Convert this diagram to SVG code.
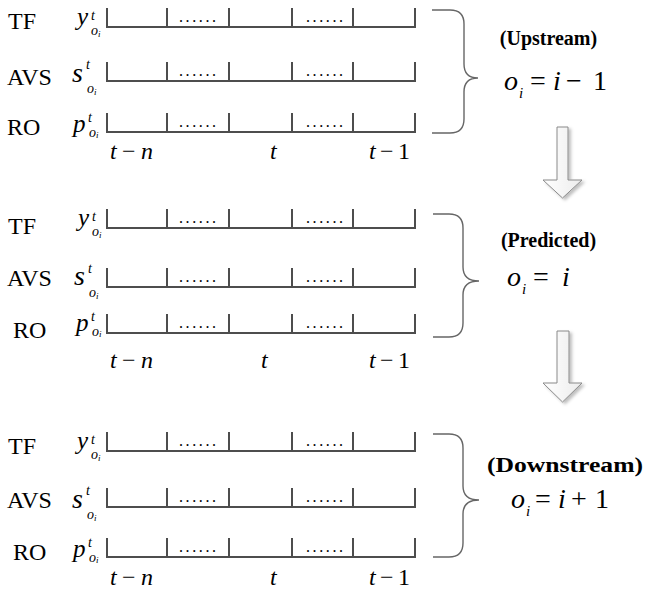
<svg xmlns="http://www.w3.org/2000/svg" width="646" height="592" viewBox="0 0 646 592">
<defs>
<style>
text{font-family:"Liberation Serif","Times New Roman",serif;fill:#000}
.lab{font-size:24px}
.it{font-style:italic}
.sup{font-style:italic;font-size:14px}
.ss{font-style:italic;font-size:9px}
.dots{font-size:16px;letter-spacing:2.6px}
.head{font-size:20px;font-weight:bold}
.eq{font-size:28px}
.track{fill:none;stroke:#4d4d4d;stroke-width:2}
.brace{fill:none;stroke:#666;stroke-width:1.4}
.arrow{fill:url(#ag);stroke:#8a8a8a;stroke-width:1;filter:url(#sh)}
</style>
<linearGradient id="ag" x1="0" y1="0" x2="1" y2="0">
<stop offset="0" stop-color="#ffffff"/>
<stop offset="1" stop-color="#ececec"/>
</linearGradient>
<filter id="sh" x="-30%" y="-10%" width="170%" height="130%">
<feDropShadow dx="2.5" dy="2" stdDeviation="1.5" flood-color="#000" flood-opacity="0.25"/>
</filter>
<g id="track">
<path class="track" d="M107,-19 V0 H415 V-19 M167,0 V-19 M229,0 V-19 M292,0 V-19 M353,0 V-19"/>
<text class="dots" x="179" y="-5">......</text>
<text class="dots" x="306" y="-5">......</text>
</g>
</defs>
<rect width="646" height="592" fill="#fff"/>

<g id="group-upstream">
<g id="g1-tf">
<use href="#track" y="27"/>
<text class="lab" x="8" y="29">TF</text>
<text><tspan class="it" x="77" y="25" font-size="25">y</tspan><tspan class="sup" x="91" y="20">t</tspan><tspan class="sup" x="91" y="35">o</tspan><tspan class="ss" x="98" y="37">i</tspan></text>
</g>
<g id="g1-avs">
<use href="#track" y="81"/>
<text class="lab" x="7" y="85">AVS</text>
<text><tspan class="it" x="72" y="82" font-size="28">s</tspan><tspan class="sup" x="86" y="69" font-size="15">t</tspan><tspan class="sup" x="87" y="93">o</tspan><tspan class="ss" x="94" y="95">i</tspan></text>
</g>
<g id="g1-ro">
<use href="#track" y="132"/>
<text class="lab" x="7" y="135">RO</text>
<text><tspan class="it" x="73" y="132" font-size="25">p</tspan><tspan class="sup" x="88" y="122">t</tspan><tspan class="sup" x="89" y="137" font-size="13">o</tspan><tspan class="ss" x="96" y="138" font-size="8">i</tspan></text>
</g>
<text id="g1-axis" font-size="24"><tspan class="it" x="110" y="159">t</tspan><tspan x="122" y="159">−</tspan><tspan class="it" x="141" y="159">n</tspan><tspan class="it" x="270" y="159">t</tspan><tspan class="it" x="369" y="159">t</tspan><tspan x="380" y="159">−</tspan><tspan x="398" y="159">1</tspan></text>
<path class="brace" d="M432,10 H450 Q464,10 464,24 V64 Q464,78 478,78 Q464,78 464,92 V119 Q464,133 450,133 H432"/>
<text class="head" x="548.5" y="45" text-anchor="middle">(Upstream)</text>
<text class="eq"><tspan class="it" x="504" y="90">o</tspan><tspan class="it" x="519" y="98" font-size="15">i</tspan><tspan x="530" y="90">=</tspan><tspan class="it" x="553" y="90">i</tspan><tspan x="566" y="90">−</tspan><tspan x="593" y="90">1</tspan></text>
</g>

<g id="group-predicted">
<g id="g2-tf">
<use href="#track" y="228"/>
<text class="lab" x="8" y="234">TF</text>
<text><tspan class="it" x="78" y="226" font-size="25">y</tspan><tspan class="sup" x="92" y="221">t</tspan><tspan class="sup" x="92" y="236">o</tspan><tspan class="ss" x="99" y="238">i</tspan></text>
</g>
<g id="g2-avs">
<use href="#track" y="287"/>
<text class="lab" x="7" y="286">AVS</text>
<text><tspan class="it" x="74" y="285" font-size="28">s</tspan><tspan class="sup" x="88" y="273" font-size="15">t</tspan><tspan class="sup" x="89" y="297">o</tspan><tspan class="ss" x="96" y="299">i</tspan></text>
</g>
<g id="g2-ro">
<use href="#track" y="333"/>
<text class="lab" x="13" y="338">RO</text>
<text><tspan class="it" x="76" y="331" font-size="25">p</tspan><tspan class="sup" x="91" y="321">t</tspan><tspan class="sup" x="92" y="336" font-size="13">o</tspan><tspan class="ss" x="99" y="337" font-size="8">i</tspan></text>
</g>
<text id="g2-axis" font-size="24"><tspan class="it" x="110" y="368">t</tspan><tspan x="122" y="368">−</tspan><tspan class="it" x="141" y="368">n</tspan><tspan class="it" x="261" y="368">t</tspan><tspan class="it" x="369" y="368">t</tspan><tspan x="380" y="368">−</tspan><tspan x="398" y="368">1</tspan></text>
<path class="brace" d="M433,214 H449 Q463,214 463,228 V267 Q463,281 479,281 Q463,281 463,295 V323 Q463,337 449,337 H433"/>
<text class="head" x="548.5" y="247" text-anchor="middle">(Predicted)</text>
<text class="eq"><tspan class="it" x="507" y="286">o</tspan><tspan class="it" x="522" y="294" font-size="15">i</tspan><tspan x="533" y="286">=</tspan><tspan class="it" x="562" y="286">i</tspan></text>
</g>

<g id="group-downstream">
<g id="g3-tf">
<use href="#track" y="451"/>
<text class="lab" x="8" y="454">TF</text>
<text><tspan class="it" x="77" y="449" font-size="25">y</tspan><tspan class="sup" x="91" y="444">t</tspan><tspan class="sup" x="91" y="459">o</tspan><tspan class="ss" x="98" y="461">i</tspan></text>
</g>
<g id="g3-avs">
<use href="#track" y="507"/>
<text class="lab" x="7" y="508">AVS</text>
<text><tspan class="it" x="72" y="508" font-size="28">s</tspan><tspan class="sup" x="86" y="495" font-size="15">t</tspan><tspan class="sup" x="87" y="519">o</tspan><tspan class="ss" x="94" y="521">i</tspan></text>
</g>
<g id="g3-ro">
<use href="#track" y="557"/>
<text class="lab" x="13" y="560">RO</text>
<text><tspan class="it" x="73" y="557" font-size="25">p</tspan><tspan class="sup" x="88" y="547">t</tspan><tspan class="sup" x="89" y="562" font-size="13">o</tspan><tspan class="ss" x="96" y="563" font-size="8">i</tspan></text>
</g>
<text id="g3-axis" font-size="24"><tspan class="it" x="110" y="585">t</tspan><tspan x="122" y="585">−</tspan><tspan class="it" x="141" y="585">n</tspan><tspan class="it" x="270" y="585">t</tspan><tspan class="it" x="369" y="585">t</tspan><tspan x="380" y="585">−</tspan><tspan x="398" y="585">1</tspan></text>
<path class="brace" d="M433,434 H449 Q463,434 463,448 V486 Q463,500 479,500 Q463,500 463,514 V543 Q463,557 449,557 H433"/>
<text class="head" x="487" y="472" textLength="156" lengthAdjust="spacingAndGlyphs">(Downstream)</text>
<text class="eq"><tspan class="it" x="511" y="508">o</tspan><tspan class="it" x="526" y="516" font-size="15">i</tspan><tspan x="535" y="508">=</tspan><tspan class="it" x="558" y="508">i</tspan><tspan x="571" y="508">+</tspan><tspan x="595" y="508">1</tspan></text>
</g>

<g id="connectors">
<path class="arrow" d="M557,127 H568 V180 H582 L562.5,198 L543,180 H557 Z"/>
<path class="arrow" d="M557,331 H569 V383 H582 L562.5,402 L543,383 H557 Z"/>
</g>
</svg>
